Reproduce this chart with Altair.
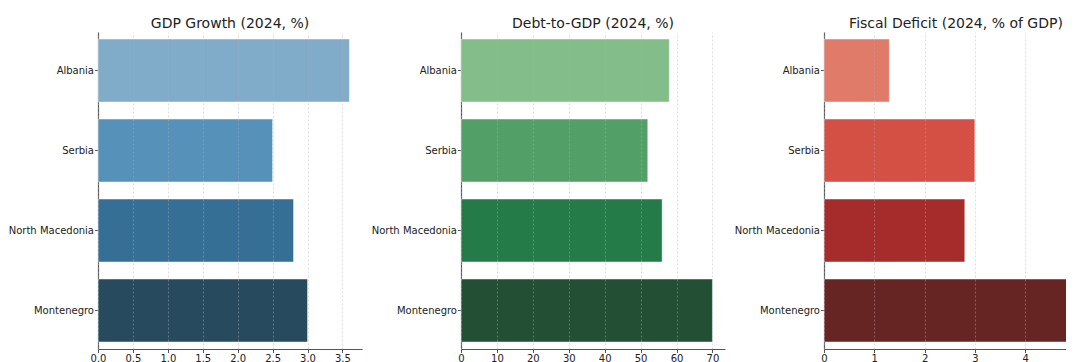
import altair as alt
import pandas as pd

countries = ["Albania", "Serbia", "North Macedonia", "Montenegro"]
gdp_growth = [3.6, 2.5, 2.8, 3.0]
debt_to_gdp = [58, 52, 56, 70]
fiscal_deficit = [1.3, 3.0, 2.8, 5.0]

gdp_colors = ["#80ACCA", "#5591B8", "#366F95", "#284A5F"]
debt_colors = ["#82BD8A", "#52A068", "#247B48", "#234F35"]
deficit_colors = ["#E07B6A", "#D44F44", "#A62C2B", "#662523"]

gdp_ticks = [0, 0.5, 1.0, 1.5, 2.0, 2.5, 3.0, 3.5]
debt_ticks = [0, 10, 20, 30, 40, 50, 60, 70]
deficit_ticks = [0, 1, 2, 3, 4]

titles = ["GDP Growth (2024, %)", "Debt-to-GDP (2024, %)", "Fiscal Deficit (2024, % of GDP)"]

H = 317
W = 264


def panel(values, colors, title, domain, ticks, fmt):
    df = pd.DataFrame({"country": countries, "value": values})
    return (
        alt.Chart(
            df,
            title=alt.Title(title, fontSize=14, fontWeight="normal", color="#222222",
                            offset=1, anchor="middle"),
        )
        .mark_bar(stroke="#ffffff", strokeWidth=0.8, strokeOpacity=0.6)
        .encode(
            y=alt.Y(
                "country:N",
                sort=countries,
                scale=alt.Scale(paddingInner=0.2125, paddingOuter=0.0875),
                axis=alt.Axis(title=None, tickSize=3.5, labelPadding=1, minExtent=90,
                              maxExtent=90, labelFontSize=10, labelLimit=200,
                              domainColor="#555555", tickColor="#555555",
                              labelColor="#222222", grid=False, domainWidth=1.2),
            ),
            x=alt.X(
                "value:Q",
                scale=alt.Scale(domain=domain, nice=False, zero=True),
                axis=alt.Axis(title=None, values=ticks, format=fmt, grid=True,
                              gridDash=[2, 2], gridColor="#b0b0b0", gridOpacity=0.55,
                              gridWidth=0.8, tickSize=3.5, labelPadding=1,
                              labelFontSize=10, labelColor="#222222",
                              domainColor="#555555", tickColor="#555555",
                              domainWidth=1.2, zindex=1, labelFlush=False),
            ),
            color=alt.Color("country:N", scale=alt.Scale(domain=countries, range=colors),
                            legend=None),
        )
        .properties(width=W, height=H)
    )


p1 = panel(gdp_growth, gdp_colors, titles[0], [0, 3.78], gdp_ticks, ".1f")
p2 = panel(debt_to_gdp, debt_colors, titles[1], [0, 73.5], debt_ticks, "d")
p3 = panel(fiscal_deficit, deficit_colors, titles[2], [0, 5.25], deficit_ticks, "d")

chart = (
    alt.hconcat(p1, p2, p3, spacing=9)
    .resolve_scale(color="independent")
    .properties(
        autosize=alt.AutoSizeParams(type="none"),
        padding={"left": 90, "top": 24, "right": 968, "bottom": 322},
    )
    .configure(font="DejaVu Sans")
    .configure_view(stroke=None)
)

chart.save("out.html", embed_options={"renderer": "svg", "actions": False})
